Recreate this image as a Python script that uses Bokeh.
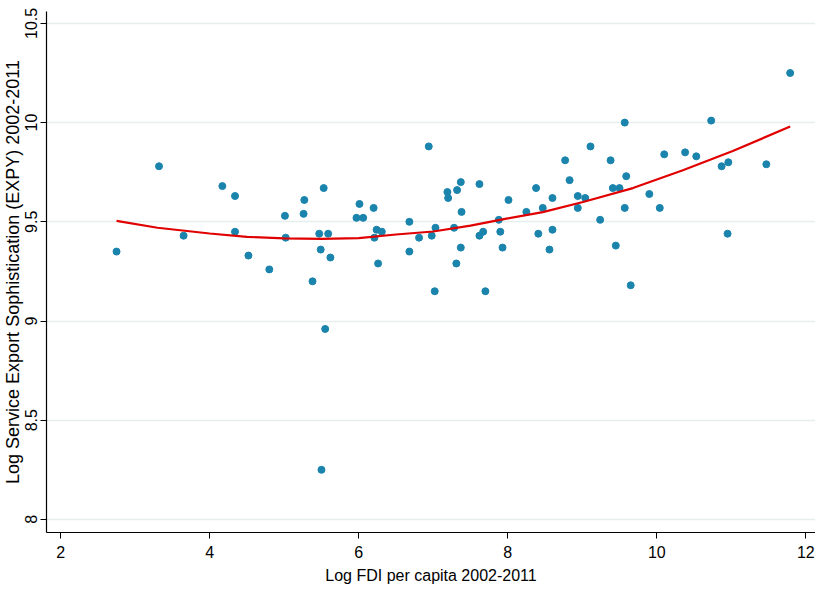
import numpy as np
from bokeh.plotting import figure
from bokeh.models import Range1d, FixedTicker, Title
from bokeh.embed import file_html
from bokeh.resources import INLINE

# Scatter data: Log FDI per capita vs Log Service EXPY
fdi = [2.75, 3.32, 3.65, 4.17, 4.34, 4.34, 4.52, 4.80, 5.01, 5.02,
       5.27, 5.26, 5.38, 5.47, 5.49, 5.53, 5.59, 5.62, 5.55, 5.50,
       5.97, 6.01, 6.06, 6.20, 6.24, 6.21, 6.31, 6.26, 6.68, 6.68,
       6.81, 6.94, 6.98, 7.03, 7.02, 7.19, 7.20, 7.32, 7.37, 7.38,
       7.28, 7.37, 7.31, 7.62, 7.62, 7.67, 7.70, 7.88, 7.90, 7.93,
       8.01, 8.25, 8.38, 8.41, 8.47, 8.56, 8.60, 8.60, 8.77, 8.83,
       8.94, 8.94, 9.04, 9.11, 9.24, 9.38, 9.41, 9.50, 9.45, 9.57,
       9.59, 9.57, 9.65, 9.90, 10.04, 10.10, 10.38, 10.53, 10.73, 10.87,
       10.96, 10.95, 11.47, 11.79]
expy = [9.35, 9.78, 9.43, 9.68, 9.63, 9.45, 9.33, 9.26, 9.53, 9.42,
        9.61, 9.54, 9.20, 9.44, 9.36, 9.67, 9.44, 9.32, 8.96, 8.25,
        9.52, 9.59, 9.52, 9.57, 9.46, 9.42, 9.45, 9.29, 9.50, 9.35,
        9.42, 9.88, 9.43, 9.47, 9.15, 9.65, 9.62, 9.66, 9.70, 9.55,
        9.47, 9.37, 9.29, 9.69, 9.43, 9.45, 9.15, 9.51, 9.45, 9.37,
        9.61, 9.55, 9.67, 9.44, 9.57, 9.36, 9.62, 9.46, 9.81, 9.71,
        9.63, 9.57, 9.62, 9.88, 9.51, 9.81, 9.67, 9.67, 9.38, 10.00,
        9.73, 9.57, 9.18, 9.64, 9.57, 9.84, 9.85, 9.83, 10.01, 9.78,
        9.80, 9.44, 9.79, 10.25]

# Fitted curve
fit_x = [2.75, 3.3, 4.0, 4.5, 5.0, 5.5, 6.0, 6.5, 7.0, 7.5, 8.0, 8.47,
         9.01, 9.68, 10.35, 11.02, 11.79]
fit_y = [9.505, 9.47, 9.441, 9.424, 9.416, 9.414, 9.418, 9.436, 9.451,
         9.481, 9.517, 9.549, 9.60, 9.67, 9.76, 9.857, 9.98]

x_ticks = [2, 4, 6, 8, 10, 12]
y_ticks = [8, 8.5, 9, 9.5, 10, 10.5]

x_title = "Log FDI per capita 2002-2011"
y_title = "Log Service Export Sophistication (EXPY) 2002-2011"

FONT = "Liberation Sans"

p = figure(width=815, height=587, output_backend="svg", toolbar_location=None,
           x_range=Range1d(1.81, 12.13), y_range=Range1d(7.934, 10.56),
           min_border_left=46, min_border_right=0, min_border_top=11,
           min_border_bottom=55)
p.outline_line_color = None
p.background_fill_color = "white"
p.border_fill_color = "white"

p.xgrid.grid_line_color = None
p.ygrid.grid_line_color = "#e6eeef"
p.ygrid.grid_line_width = 1.5
p.ygrid.ticker = FixedTicker(ticks=y_ticks)

p.xaxis.ticker = FixedTicker(ticks=x_ticks)
p.yaxis.ticker = FixedTicker(ticks=y_ticks)
p.yaxis.major_label_overrides = {8: "8", 8.5: "8.5", 9: "9", 9.5: "9.5", 10: "10", 10.5: "10.5"}

for ax in (p.xaxis[0], p.yaxis[0]):
    ax.axis_line_color = "black"
    ax.axis_line_width = 1.2
    ax.major_tick_line_color = "black"
    ax.major_tick_out = 6
    ax.major_tick_in = 0
    ax.minor_tick_line_color = None
    ax.major_label_text_font = FONT
    ax.major_label_text_font_size = "16px"
    ax.major_label_text_color = "black"
    ax.axis_label_text_font = FONT
    ax.axis_label_text_font_size = "16px"
    ax.axis_label_text_font_style = "normal"
    ax.axis_label_text_color = "black"

p.xaxis.axis_label = x_title
p.yaxis.major_label_orientation = "vertical"
p.xaxis.major_label_standoff = 7
p.xaxis.axis_label_standoff = 6
p.yaxis.major_label_standoff = 3

ytitle = Title(text=y_title, align="center", offset=7, standoff=0,
               text_font=FONT, text_font_size="18px", text_font_style="normal",
               text_color="black")
p.add_layout(ytitle, "left")

p.scatter(fdi, expy, size=7, color="#1a84ad", line_color="#1a84ad")
p.line(fit_x, fit_y, line_color="#e00000", line_width=2.2)

open("out.html", "w").write(file_html(p, INLINE))
